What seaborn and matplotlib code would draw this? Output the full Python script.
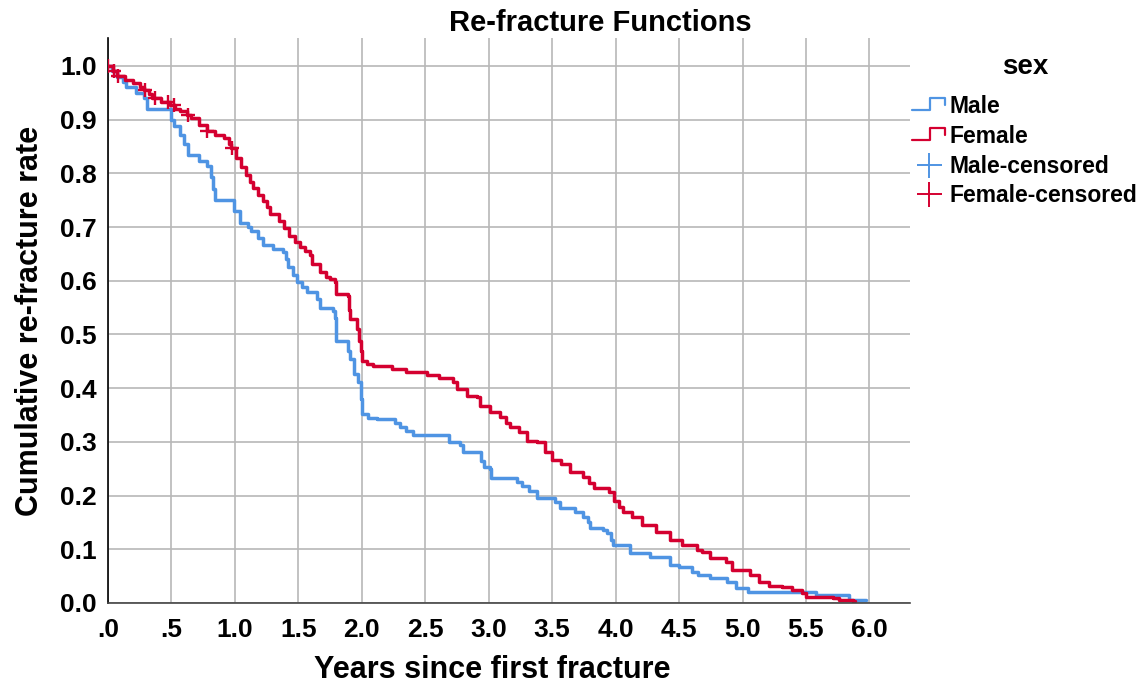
import numpy as np
import pandas as pd
import matplotlib
matplotlib.use("Agg")
import matplotlib.pyplot as plt
import seaborn as sns
from matplotlib.lines import Line2D
from matplotlib.legend_handler import HandlerBase

# Kaplan-Meier style step data (years, rate)
male_t = [0.00, 0.03, 0.07, 0.12, 0.14, 0.22, 0.28, 0.31, 0.50, 0.52, 0.57, 0.60,
          0.63, 0.72, 0.78, 0.81, 0.83, 0.84, 0.99, 1.04, 1.10, 1.13, 1.18, 1.22,
          1.30, 1.38, 1.40, 1.42, 1.46, 1.49, 1.53, 1.57, 1.65, 1.67, 1.77, 1.79,
          1.80, 1.89, 1.91, 1.94, 1.97, 1.99, 2.00, 2.05, 2.12, 2.26, 2.30, 2.35,
          2.40, 2.69, 2.77, 2.80, 2.94, 2.96, 3.01, 3.02, 3.22, 3.26, 3.32, 3.38,
          3.52, 3.56, 3.68, 3.74, 3.78, 3.80, 3.90, 3.93, 3.96, 3.98, 4.11, 4.27,
          4.43, 4.50, 4.60, 4.65, 4.74, 4.88, 4.95, 5.04, 5.58, 5.84, 5.97]
male_s = [1.000, 0.990, 0.980, 0.970, 0.960, 0.950, 0.940, 0.920, 0.900, 0.888, 0.871, 0.855,
          0.834, 0.823, 0.813, 0.794, 0.770, 0.750, 0.730, 0.707, 0.700, 0.693, 0.680, 0.666,
          0.660, 0.654, 0.640, 0.625, 0.610, 0.598, 0.588, 0.579, 0.566, 0.549, 0.544, 0.530,
          0.488, 0.470, 0.454, 0.426, 0.411, 0.380, 0.351, 0.345, 0.342, 0.336, 0.328, 0.320,
          0.312, 0.299, 0.295, 0.282, 0.265, 0.254, 0.249, 0.232, 0.226, 0.217, 0.208, 0.196,
          0.188, 0.176, 0.170, 0.161, 0.150, 0.140, 0.136, 0.131, 0.118, 0.108, 0.093, 0.086,
          0.071, 0.067, 0.058, 0.052, 0.047, 0.039, 0.028, 0.021, 0.015, 0.006, 0.006]

female_t = [0.00, 0.04, 0.07, 0.13, 0.20, 0.25, 0.28, 0.32, 0.35, 0.42, 0.49, 0.53,
            0.57, 0.62, 0.65, 0.72, 0.78, 0.84, 0.91, 0.95, 0.97, 1.01, 1.05, 1.09,
            1.12, 1.14, 1.18, 1.22, 1.25, 1.28, 1.35, 1.39, 1.43, 1.47, 1.51, 1.55,
            1.59, 1.61, 1.67, 1.72, 1.75, 1.79, 1.80, 1.89, 1.90, 1.91, 1.96, 1.98,
            1.99, 2.00, 2.04, 2.09, 2.24, 2.35, 2.51, 2.61, 2.72, 2.75, 2.83, 2.91,
            2.93, 3.01, 3.09, 3.14, 3.17, 3.24, 3.30, 3.38, 3.44, 3.50, 3.57, 3.64,
            3.74, 3.79, 3.83, 3.95, 3.99, 4.03, 4.06, 4.13, 4.21, 4.32, 4.43, 4.52,
            4.64, 4.68, 4.74, 4.87, 4.92, 5.06, 5.13, 5.21, 5.31, 5.39, 5.47, 5.50,
            5.71, 5.76, 5.87, 5.89]
female_s = [1.000, 0.990, 0.981, 0.974, 0.968, 0.960, 0.955, 0.947, 0.940, 0.933, 0.927, 0.920,
            0.916, 0.908, 0.903, 0.890, 0.878, 0.872, 0.865, 0.855, 0.847, 0.828, 0.812, 0.796,
            0.783, 0.772, 0.760, 0.748, 0.737, 0.725, 0.712, 0.698, 0.684, 0.672, 0.663, 0.655,
            0.648, 0.632, 0.617, 0.607, 0.604, 0.598, 0.576, 0.572, 0.545, 0.529, 0.510, 0.488,
            0.470, 0.450, 0.445, 0.441, 0.436, 0.430, 0.424, 0.419, 0.411, 0.398, 0.385, 0.383,
            0.366, 0.355, 0.346, 0.336, 0.327, 0.318, 0.301, 0.299, 0.282, 0.267, 0.258, 0.243,
            0.234, 0.224, 0.215, 0.206, 0.189, 0.178, 0.170, 0.161, 0.146, 0.133, 0.118, 0.108,
            0.099, 0.095, 0.084, 0.077, 0.062, 0.052, 0.039, 0.032, 0.030, 0.024, 0.019, 0.011,
            0.009, 0.006, 0.003, 0.003]

# censored observations (years) for the female group
female_cens_t = [0.00, 0.05, 0.08, 0.29, 0.37, 0.47, 0.52, 0.63, 0.78, 0.98]

x_ticks = [0.0, 0.5, 1.0, 1.5, 2.0, 2.5, 3.0, 3.5, 4.0, 4.5, 5.0, 5.5, 6.0]
x_labels = [".0", ".5", "1.0", "1.5", "2.0", "2.5", "3.0", "3.5", "4.0", "4.5", "5.0", "5.5", "6.0"]
y_ticks = [0.0, 0.1, 0.2, 0.3, 0.4, 0.5, 0.6, 0.7, 0.8, 0.9, 1.0]

MALE_C = "#4f94e3"
FEMALE_C = "#d40030"


def step_value(t_list, s_list, t):
    # value of a right-continuous step function at t
    i = np.searchsorted(t_list, t, side="right") - 1
    return s_list[max(i, 0)]


class StepHandler(HandlerBase):
    def create_artists(self, legend, orig_handle, xdescent, ydescent,
                       width, height, fontsize, trans):
        x0, x1 = -xdescent, -xdescent + width
        xm = x0 + 0.55 * width
        yl, yh = -ydescent + 0.15 * height, -ydescent + 0.9 * height
        line = Line2D([x0, xm, xm, x1, x1], [yl, yl, yh, yh, yh - 0.4 * height],
                      color=orig_handle.get_color(), lw=1.6, transform=trans)
        return [line]


df = pd.concat([
    pd.DataFrame({"years": male_t, "rate": male_s, "sex": "Male"}),
    pd.DataFrame({"years": female_t, "rate": female_s, "sex": "Female"}),
])
cens = pd.DataFrame({
    "years": female_cens_t,
    "rate": [step_value(female_t, female_s, t) for t in female_cens_t],
})

sns.set_style("white")
plt.rcParams["font.family"] = ["Liberation Sans", "DejaVu Sans"]
plt.rcParams["font.weight"] = "bold"
plt.rcParams["text.color"] = "black"
plt.rcParams["xtick.color"] = "black"
plt.rcParams["ytick.color"] = "black"
plt.rcParams["axes.labelcolor"] = "black"

fig = plt.figure(figsize=(11.48, 6.87), dpi=100)
ax = fig.add_axes([0.0941, 0.1223, 0.6986, 0.8224])

sns.lineplot(data=df, x="years", y="rate", hue="sex",
             palette={"Male": MALE_C, "Female": FEMALE_C},
             estimator=None, sort=False, drawstyle="steps-post",
             lw=2.5, legend=False, ax=ax)
sns.scatterplot(data=cens, x="years", y="rate", marker="+", s=90,
                color=FEMALE_C, linewidth=1.7, legend=False, ax=ax, zorder=4)

ax.set_xlim(0, 6.32)
ax.set_ylim(0, 1.052)
ax.set_xticks(x_ticks)
ax.set_xticklabels(x_labels)
ax.set_yticks(y_ticks)
ax.set_yticklabels([f"{v:.1f}" for v in y_ticks])
ax.tick_params(axis="both", labelsize=19, length=0)
ax.tick_params(axis="x", pad=11)
ax.tick_params(axis="y", pad=8)
for lab in ax.get_xticklabels() + ax.get_yticklabels():
    lab.set_fontweight("bold")
ax.grid(True, color="#b8b8b8", lw=1.2)
ax.set_axisbelow(True)
for side in ["top", "right"]:
    ax.spines[side].set_visible(False)
ax.spines["left"].set_color("black")
ax.spines["bottom"].set_color("#444444")
ax.spines["left"].set_linewidth(1.2)
ax.spines["bottom"].set_linewidth(1.2)

ax.set_xlabel("Years since first fracture", fontsize=22, fontweight="bold")
ax.xaxis.set_label_coords(0.479, -0.092)
ax.set_ylabel("Cumulative re-fracture rate", fontsize=22, fontweight="bold", labelpad=11)
fig.text(0.523, 0.966, "Re-fracture Functions", ha="center", va="center",
         fontsize=21, fontweight="bold")

handles = [Line2D([], [], color=MALE_C), Line2D([], [], color=FEMALE_C),
           Line2D([], [], color=MALE_C, marker="+", ls="none", ms=18, mew=1.4),
           Line2D([], [], color=FEMALE_C, marker="+", ls="none", ms=18, mew=1.4)]
labels = ["Male", "Female", "Male-censored", "Female-censored"]
leg = fig.legend(handles, labels, title="sex", loc="upper left",
                 bbox_to_anchor=(0.7944, 0.922), frameon=False,
                 borderpad=0, borderaxespad=0,
                 prop={"size": 16.5, "weight": "bold"}, title_fontsize=20,
                 handlelength=1.45, handletextpad=0.2, labelspacing=0.3,
                 handler_map={handles[0]: StepHandler(), handles[1]: StepHandler()})
leg.get_title().set_fontweight("bold")
leg._legend_box.sep = 11

fig.savefig("out.png", dpi=100)
